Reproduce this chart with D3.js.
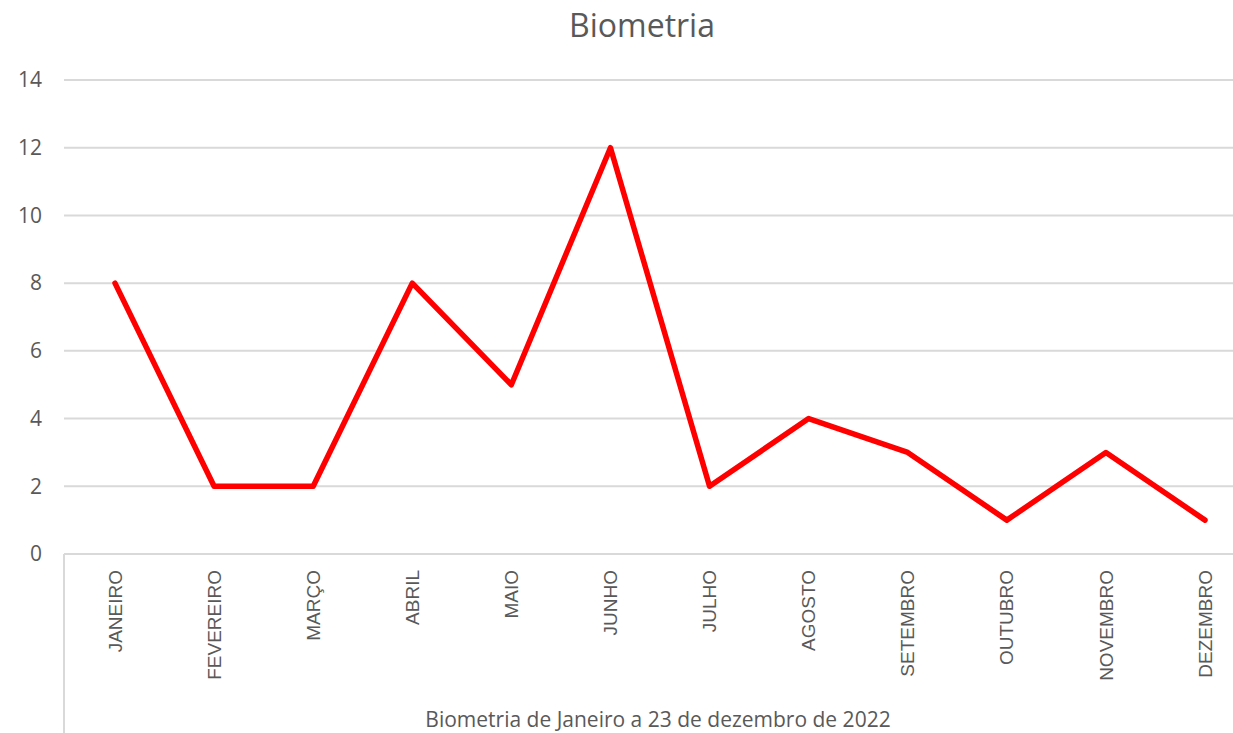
<!DOCTYPE html>
<html>
<head>
<meta charset="utf-8">
<script src="https://d3js.org/d3.v7.min.js"></script>
<style>
  body { margin: 0; background: #fff; }
  svg { display: block; }
</style>
</head>
<body>
<div id="chart"></div>
<script>
var months = ["JANEIRO", "FEVEREIRO", "MARÇO", "ABRIL", "MAIO", "JUNHO", "JULHO",
              "AGOSTO", "SETEMBRO", "OUTUBRO", "NOVEMBRO", "DEZEMBRO"];
var values = [8, 2, 2, 8, 5, 12, 2, 4, 3, 1, 3, 1];
var yTicks = [0, 2, 4, 6, 8, 10, 12, 14];

var W = 1233, H = 733;
var textColor = "#595959";
var gridColor = "#d9d9d9";

var svg = d3.select("#chart").append("svg")
    .attr("width", W)
    .attr("height", H);

var x = d3.scalePoint().domain(months).range([115, 1205]);
var y = d3.scaleLinear().domain([0, 14]).range([554, 80]);

// title
svg.append("text")
    .attr("x", 642).attr("y", 37)
    .attr("text-anchor", "middle")
    .attr("font-family", "Open Sans")
    .attr("font-size", 32)
    .attr("fill", textColor)
    .text("Biometria");

// grid lines
svg.append("g").selectAll("line")
    .data(yTicks)
    .enter().append("line")
    .attr("x1", 64).attr("x2", W)
    .attr("y1", function(d){ return y(d); })
    .attr("y2", function(d){ return y(d); })
    .attr("stroke", gridColor)
    .attr("stroke-width", 2);

// left line below the axis (category area)
svg.append("line")
    .attr("x1", 64).attr("x2", 64)
    .attr("y1", y(0)).attr("y2", H)
    .attr("stroke", gridColor)
    .attr("stroke-width", 2);

// y tick labels
svg.append("g").selectAll("text")
    .data(yTicks)
    .enter().append("text")
    .attr("x", 42)
    .attr("y", function(d){ return y(d); })
    .attr("dy", "0.35em")
    .attr("text-anchor", "end")
    .attr("font-family", "Open Sans")
    .attr("font-size", 21)
    .attr("fill", textColor)
    .text(function(d){ return d; });

// month labels, rotated
svg.append("g").selectAll("text")
    .data(months)
    .enter().append("text")
    .attr("transform", function(d){ return "translate(" + x(d) + ",570) rotate(-90)"; })
    .attr("dy", "0.35em")
    .attr("text-anchor", "end")
    .attr("font-family", "Liberation Sans, Arial")
    .attr("font-size", 19)
    .attr("fill", textColor)
    .text(function(d){ return d; });

// axis title
svg.append("text")
    .attr("x", 658).attr("y", 727)
    .attr("text-anchor", "middle")
    .attr("font-family", "Open Sans")
    .attr("font-size", 21)
    .attr("fill", textColor)
    .text("Biometria de Janeiro a 23 de dezembro de 2022");

// the line
var line = d3.line()
    .x(function(d, i){ return x(months[i]); })
    .y(function(d){ return y(d); });

svg.append("path")
    .datum(values)
    .attr("d", line)
    .attr("fill", "none")
    .attr("stroke", "#ff0000")
    .attr("stroke-width", 5.5)
    .attr("stroke-linejoin", "round")
    .attr("stroke-linecap", "round");
</script>
</body>
</html>
